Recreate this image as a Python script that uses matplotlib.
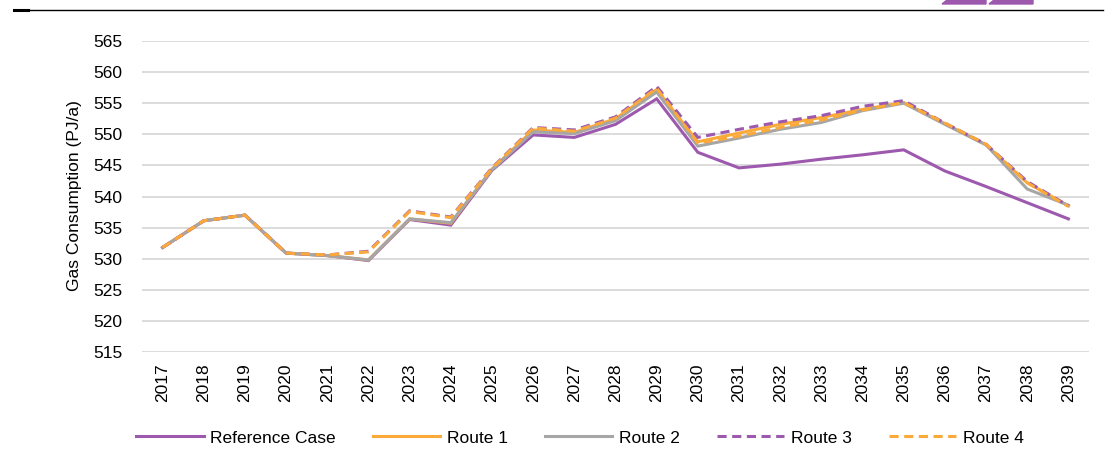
import matplotlib
matplotlib.use("Agg")
import matplotlib.pyplot as plt
from matplotlib.patches import Polygon
from matplotlib.lines import Line2D

# Annual gas consumption by scenario (PJ/a)
years = [str(y) for y in range(2017, 2040)]

reference_case = [531.8, 536.1, 537.0, 530.9, 530.5, 529.7, 536.3, 535.4, 544.2,
                  549.9, 549.5, 551.6, 555.7, 547.1, 544.6, 545.2, 546.0, 546.7,
                  547.5, 544.1, 541.6, 539.0, 536.4]
route_1 = [531.8, 536.1, 537.0, 530.9, 530.5, 529.8, 536.4, 535.7, 544.4,
           550.7, 550.3, 552.5, 557.2, 548.8, 550.2, 551.6, 552.7, 554.0,
           555.1, 551.7, 548.3, 542.2, 538.5]
route_2 = [531.8, 536.1, 537.0, 530.9, 530.5, 529.8, 536.4, 535.8, 544.3,
           550.4, 550.1, 552.2, 556.8, 548.1, 549.4, 550.8, 551.9, 553.8,
           555.0, 551.6, 548.3, 541.2, 538.6]
route_3 = [531.8, 536.1, 537.0, 530.9, 530.6, 531.2, 537.7, 536.7, 544.6,
           551.1, 550.7, 552.8, 557.7, 549.5, 550.8, 552.0, 553.0, 554.5,
           555.4, 551.8, 548.4, 542.4, 538.5]
route_4 = [531.8, 536.1, 537.0, 530.9, 530.6, 531.1, 537.6, 536.6, 544.5,
           551.0, 550.5, 552.6, 557.4, 548.6, 549.7, 551.1, 552.3, 553.9,
           555.1, 551.8, 548.4, 542.2, 538.4]

series_names = ["Reference Case", "Route 1", "Route 2", "Route 3", "Route 4"]
y_ticks = list(range(515, 566, 5))

PURPLE = "#9D59AE"
ORANGE = "#FBAA3A"
GREY = "#A6A6A6"

plt.rcParams["font.family"] = ["Liberation Sans", "DejaVu Sans"]
plt.rcParams["font.size"] = 12.5

fig = plt.figure(figsize=(11.06, 4.72), dpi=100)
ax = fig.add_axes([142 / 1106, 1 - 352 / 472, (1089 - 142) / 1106, (352 - 41) / 472])

x = list(range(len(years)))
lw = 2.2
dash = (3.0, 1.8)
styles = [
    (reference_case, PURPLE, "-"),
    (route_1, ORANGE, "-"),
    (route_2, GREY, "-"),
    (route_3, PURPLE, "--"),
    (route_4, ORANGE, "--"),
]
handles = []
for (vals, col, ls), name in zip(styles, series_names):
    kw = dict(color=col, lw=lw, solid_joinstyle="miter", label=name)
    if ls == "--":
        kw["dashes"] = dash
    line, = ax.plot(x, vals, **kw)
    handles.append(line)

ax.set_xlim(-0.5, len(years) - 0.5)
ax.set_ylim(515, 565)
ax.set_yticks(y_ticks)
ax.set_xticks(x)
ax.set_xticklabels(years, rotation=90)
ax.tick_params(axis="both", length=0)
ax.tick_params(axis="y", pad=14)
ax.tick_params(axis="x", pad=8)
ax.grid(axis="y", color="#D9D9D9", lw=1.3)
ax.set_axisbelow(True)
for s in ax.spines.values():
    s.set_visible(False)

fig.text(75 / 1106, 1 - 196 / 472, "Gas Consumption (PJ/a)", rotation=90,
         ha="center", va="center", fontsize=12.5)

fig.legend(handles=handles, loc="center", ncol=5, frameon=False,
           bbox_to_anchor=(580 / 1106, 1 - 438 / 472),
           handlelength=3.9, handletextpad=0.4, columnspacing=2.1)

# Header rule and corner mark
fig.add_artist(Line2D([14 / 1106, 1103 / 1106], [1 - 10 / 472, 1 - 10 / 472],
                      color="black", lw=1.0, transform=fig.transFigure))
fig.add_artist(Line2D([14 / 1106, 28 / 1106], [1 - 10 / 472, 1 - 10 / 472],
                      color="black", lw=2.2, transform=fig.transFigure))
for x0, x1 in [(942, 986), (989, 1033)]:
    pts = [(x0, 4), (x0 + 5, 0), (x1, 0), (x1, 4)]
    fig.add_artist(Polygon([(px / 1106, 1 - py / 472) for px, py in pts],
                           closed=True, color=PURPLE, transform=fig.transFigure))

fig.savefig("out.png", dpi=100)
